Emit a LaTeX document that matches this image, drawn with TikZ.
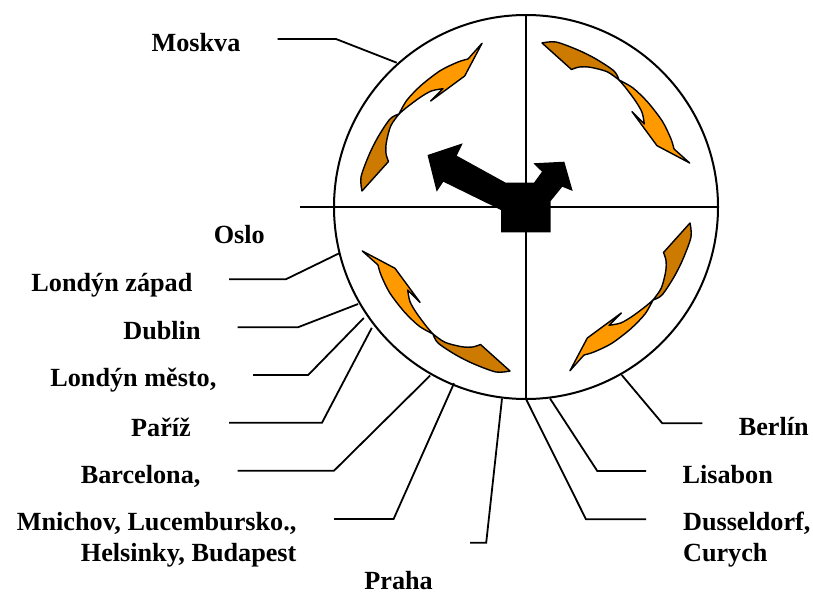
\documentclass[tikz,border=0pt]{standalone}
\usepackage{fontspec}
\setmainfont{Liberation Serif}
\definecolor{vaneLight}{RGB}{255,153,  0}
\definecolor{vaneDark} {RGB}{204,122,  0}
\usetikzlibrary{positioning}

\begin{document}
\begin{tikzpicture}[
  x=0.5pt, y=-0.5pt,
  city/.style={font=\bfseries\fontsize{13.1}{15.8}\selectfont, inner sep=0pt, anchor=base},
  lead/.style={line width=0.9pt},
  rim/.style={line width=1pt},
  vane/.style={draw=black, line width=0.7pt, line join=round},
]
  \useasboundingbox (0,0) rectangle (813,593);
  \coordinate (ctr) at (526,207);

  % Disc and cross
  \draw[rim] (ctr) circle[radius=96pt];
  \draw[rim] ([xshift=-113pt]ctr) -- ([xshift=96pt]ctr);
  \draw[rim] ([yshift=96pt]ctr) -- ([yshift=-96pt]ctr);

  % Curved vanes, one per quarter
  \foreach \a in {0,-90,-180,-270}{
    \begin{scope}[shift={(ctr)}, rotate=\a]
      % back face
      \filldraw[vane, fill=vaneDark] (-127,-93)
        -- plot[smooth] coordinates {(-127,-93) (-135.3,-81) (-139.7,-64.3) (-140,-53.5) (-137.5,-45.5)}
        -- (-164,-16)
        -- plot[smooth] coordinates {(-164,-16) (-165,-30) (-157,-52) (-148,-70) (-136,-88) (-127,-93)}
        -- cycle;
      % front face with head
      \filldraw[vane, fill=vaneLight] (-44,-163.7) -- (-61.3,-131) -- (-95.3,-106) -- (-83,-118.3)
        -- plot[smooth] coordinates {(-83,-118.3) (-94.7,-116) (-106.3,-109.3) (-119.7,-99.3) (-127,-93)}
        -- plot[smooth] coordinates {(-127,-93) (-119,-107) (-104.5,-122) (-85.5,-136.5) (-68,-145) (-58,-148)}
        -- cycle;
    \end{scope}
  }

  % Black pointer
  \fill (501,232.3) -- (501,210) -- (443.3,181.7) -- (436.7,191.7) -- (427.5,155)
    -- (462.7,143.3) -- (456.7,155.7) -- (505.7,182.7) -- (534,182.7) -- (542,171.7)
    -- (533.3,163.3) -- (564.3,161.7) -- (572.7,191) -- (562.3,186.7) -- (550.7,201)
    -- (550.7,232.3) -- cycle;

  % Left labels
  \node[city] (mosk) at (196,51.7) {Moskva};
  \coordinate (mosk-a) at (277.7,39); \coordinate (mosk-b) at (336,39); \coordinate (mosk-rim) at (396.7,62.7);
  \draw[lead] (mosk-a) -- (mosk-b) -- (mosk-rim);

  \node[city] (oslo) at (239.3,243.5) {Oslo};

  \node[city] (lzap) at (111.9,291.2) {Londýn západ};
  \coordinate (lzap-a) at (229,279.3); \coordinate (lzap-b) at (285.8,279.3); \coordinate (lzap-rim) at (339.2,253.3);
  \draw[lead] (lzap-a) -- (lzap-b) -- (lzap-rim);

  \node[city] (dub) at (162,339.5) {Dublin};
  \coordinate (dub-a) at (237.6,327.3); \coordinate (dub-b) at (297.9,327.3); \coordinate (dub-rim) at (358.1,304);
  \draw[lead] (dub-a) -- (dub-b) -- (dub-rim);

  \node[city] (lmes) at (133.4,386.8) {Londýn město,};
  \coordinate (lmes-a) at (253.1,375); \coordinate (lmes-b) at (308.2,375); \coordinate (lmes-rim) at (363.8,318);
  \draw[lead] (lmes-a) -- (lmes-b) -- (lmes-rim);

  \node[city] (pariz) at (161,436.8) {Paříž};
  \coordinate (pariz-a) at (229,422.7); \coordinate (pariz-b) at (322,422.7); \coordinate (pariz-rim) at (371.8,327.8);
  \draw[lead] (pariz-a) -- (pariz-b) -- (pariz-rim);

  \node[city] (barc) at (140.6,483.5) {Barcelona,};
  \coordinate (barc-a) at (237.6,470.7); \coordinate (barc-b) at (334,470.7); \coordinate (barc-rim) at (430.2,375.5);
  \draw[lead] (barc-a) -- (barc-b) -- (barc-rim);

  \node[city, align=right, anchor=base east] (mnich) at (296.8,561.8) {Mnichov, Lucembursko.,\\Helsinky, Budapest};
  \coordinate (mnich-a) at (334,519); \coordinate (mnich-b) at (393.6,519); \coordinate (mnich-rim) at (454,383.3);
  \draw[lead] (mnich-a) -- (mnich-b) -- (mnich-rim);

  \node[city] (praha) at (398.6,589.5) {Praha};
  \coordinate (praha-a) at (470,542.7); \coordinate (praha-b) at (486.2,542.7); \coordinate (praha-rim) at (502,398.5);
  \draw[lead] (praha-a) -- (praha-b) -- (praha-rim);

  % Right labels
  \node[city] (berl) at (773.8,435.2) {Berlín};
  \coordinate (berl-a) at (702.3,423.3); \coordinate (berl-b) at (662.3,423.3); \coordinate (berl-rim) at (621.7,375);
  \draw[lead] (berl-a) -- (berl-b) -- (berl-rim);

  \node[city] (lisa) at (727.7,483.5) {Lisabon};
  \coordinate (lisa-a) at (646,471); \coordinate (lisa-b) at (597.3,471); \coordinate (lisa-rim) at (550,398.5);
  \draw[lead] (lisa-a) -- (lisa-b) -- (lisa-rim);

  \node[city, align=left, anchor=base west] (duss) at (682.7,561.8) {Dusseldorf,\\Curych};
  \coordinate (duss-a) at (646,519.3); \coordinate (duss-b) at (586,519.3); \coordinate (duss-rim) at (526,399);
  \draw[lead] (duss-a) -- (duss-b) -- (duss-rim);
\end{tikzpicture}
\end{document}
